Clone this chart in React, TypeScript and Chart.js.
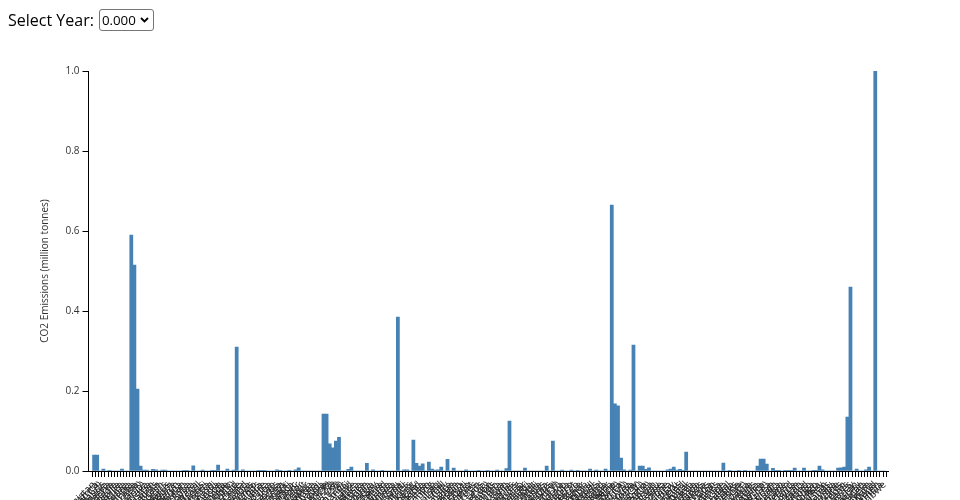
import React, { useEffect, useRef } from "react";
import { Chart, registerables } from "chart.js";

Chart.register(...registerables);

const yearOptions: string[] = ["0.000"];
const yTitle = "CO2 Emissions (million tonnes)";

const countries: string[] = [
  "Afghanistan", "Africa", "Africa (GCP)", "Aland Islands", "Albania", "Algeria", "Andorra", "Angola", "Anguilla", "Antarctica",
  "Antigua and Barbuda", "Argentina", "Armenia", "Aruba", "Asia", "Asia (GCP)", "Asia (excl. China and India)", "Australia", "Austria", "Azerbaijan",
  "Bahamas", "Bahrain", "Bangladesh", "Barbados", "Belarus", "Belgium", "Belize", "Benin", "Bermuda", "Bhutan",
  "Bolivia", "Bonaire Sint Eustatius and Saba", "Bosnia and Herzegovina", "Botswana", "Brazil", "British Virgin Islands", "Brunei", "Bulgaria", "Burkina Faso", "Burundi",
  "Cambodia", "Cameroon", "Canada", "Cape Verde", "Central African Republic", "Central America (GCP)", "Chad", "Chile", "China", "Christmas Island",
  "Colombia", "Comoros", "Congo", "Cook Islands", "Costa Rica", "Cote d'Ivoire", "Croatia", "Cuba", "Curacao", "Cyprus",
  "Czechia", "Democratic Republic of Congo", "Denmark", "Djibouti", "Dominica", "Dominican Republic", "East Timor", "Ecuador", "Egypt", "El Salvador",
  "Equatorial Guinea", "Eritrea", "Estonia", "Eswatini", "Ethiopia", "Europe", "Europe (GCP)", "Europe (excl. EU-27)", "Europe (excl. EU-28)", "European Union (27)",
  "European Union (28)", "Faroe Islands", "Fiji", "Finland", "France", "French Equatorial Africa", "French Polynesia", "French West Africa", "Gabon", "Gambia",
  "Georgia", "Germany", "Ghana", "Greece", "Greenland", "Grenada", "Guatemala", "Guinea", "Guinea-Bissau", "Guyana",
  "Haiti", "High-income countries", "Honduras", "Hong Kong", "Hungary", "Iceland", "India", "Indonesia", "International aviation", "International shipping",
  "Iran", "Iraq", "Ireland", "Israel", "Italy", "Jamaica", "Japan", "Jordan", "Kazakhstan", "Kenya",
  "Kiribati", "Kosovo", "Kuwait", "Kuwaiti Oil Fires", "Kyrgyzstan", "Laos", "Latvia", "Least developed countries (Jones et al.)", "Lebanon", "Leeward Islands",
  "Lesotho", "Liberia", "Libya", "Liechtenstein", "Lithuania", "Low-income countries", "Lower-middle-income countries", "Luxembourg", "Macao", "Madagascar",
  "Malawi", "Malaysia", "Maldives", "Mali", "Malta", "Marshall Islands", "Mauritania", "Mauritius", "Mexico", "Micronesia (country)",
  "Middle East (GCP)", "Moldova", "Monaco", "Mongolia", "Montenegro", "Montserrat", "Morocco", "Mozambique", "Myanmar", "Namibia",
  "Nauru", "Nepal", "Netherlands", "New Caledonia", "New Zealand", "Nicaragua", "Niger", "Nigeria", "Niue", "Non-OECD (GCP)",
  "North America", "North America (GCP)", "North America (excl. USA)", "North Korea", "North Macedonia", "Norway", "OECD (GCP)", "OECD (Jones et al.)", "Oceania", "Oceania (GCP)",
  "Oman", "Pakistan", "Palau", "Palestine", "Panama", "Panama Canal Zone", "Papua New Guinea", "Paraguay", "Peru", "Philippines",
  "Poland", "Portugal", "Qatar", "Romania", "Russia", "Rwanda", "Ryukyu Islands", "Saint Helena", "Saint Kitts and Nevis", "Saint Lucia",
  "Saint Pierre and Miquelon", "Saint Vincent and the Grenadines", "Samoa", "Sao Tome and Principe", "Saudi Arabia", "Senegal", "Serbia", "Seychelles", "Sierra Leone", "Singapore",
  "Sint Maarten (Dutch part)", "Slovakia", "Slovenia", "Solomon Islands", "Somalia", "South Africa", "South America", "South America (GCP)", "South Korea", "South Sudan",
  "Spain", "Sri Lanka", "Sudan", "Suriname", "Sweden", "Switzerland", "Syria", "Taiwan", "Tajikistan", "Tanzania",
  "Thailand", "Togo", "Tonga", "Trinidad and Tobago", "Tunisia", "Turkey", "Turkmenistan", "Turks and Caicos Islands", "Tuvalu", "Uganda",
  "Ukraine", "United Arab Emirates", "United Kingdom", "United States", "Upper-middle-income countries", "Uruguay", "Uzbekistan", "Vanuatu", "Vatican", "Venezuela",
  "Vietnam", "Wallis and Futuna", "World", "Yemen", "Zambia", "Zimbabwe",
];

const emissions: number[] = [
  0.04, 0.04, 0, 0.005, 0, 0.001, 0, 0, 0, 0.005, 0, 0, 0.59, 0.515, 0.205, 0.012,
  0.002, 0.002, 0, 0.004, 0.003, 0, 0.002, 0.002, 0, 0, 0, 0, 0, 0.001, 0.001, 0,
  0.013, 0, 0, 0.002, 0, 0, 0.001, 0.001, 0.015, 0, 0, 0.005, 0, 0.002, 0.31, 0,
  0.003, 0, 0, 0, 0, 0.001, 0.001, 0.001, 0, 0, 0, 0.003, 0.001, 0, 0, 0.001,
  0, 0.003, 0.008, 0, 0, 0, 0, 0, 0, 0, 0.142, 0.142, 0.068, 0.058, 0.075, 0.084,
  0, 0, 0.004, 0.01, 0, 0, 0, 0, 0.019, 0, 0.003, 0, 0, 0.001, 0, 0,
  0, 0, 0.385, 0, 0.003, 0.003, 0, 0.077, 0.019, 0.012, 0.018, 0, 0.022, 0.005, 0.002, 0.003,
  0.01, 0, 0.029, 0, 0.0075, 0, 0, 0, 0.003, 0, 0, 0, 0.001, 0, 0, 0.001,
  0, 0, 0.002, 0, 0, 0.006, 0.125, 0, 0, 0, 0, 0.007, 0, 0, 0, 0,
  0, 0, 0.0125, 0, 0.075, 0, 0, 0.002, 0, 0, 0.002, 0, 0.001, 0, 0, 0,
  0.005, 0, 0.002, 0, 0, 0.005, 0, 0.665, 0.168, 0.163, 0.032, 0.003, 0, 0.002, 0.315, 0,
  0.0125, 0.0125, 0.004, 0.008, 0, 0, 0, 0, 0, 0.003, 0.005, 0.01, 0.002, 0.004, 0.001, 0.0475,
  0, 0, 0, 0, 0, 0, 0, 0, 0, 0, 0, 0.02, 0, 0.001, 0, 0,
  0.001, 0, 0.001, 0, 0, 0, 0.0125, 0.03, 0.03, 0.0175, 0, 0.0065, 0.001, 0.001, 0, 0.001,
  0.001, 0.001, 0.007, 0, 0, 0.007, 0, 0, 0.001, 0.001, 0.0125, 0.003, 0, 0, 0, 0,
  0.007, 0.008, 0.01, 0.135, 0.46, 0, 0.005, 0, 0, 0.003, 0.01, 0, 1.0, 0, 0, 0,
];

const yTicks: number[] = [0, 0.2, 0.4, 0.6, 0.8, 1.0];

const chevron =
  "url(\"data:image/svg+xml;utf8,<svg xmlns='http://www.w3.org/2000/svg' width='9' height='6' viewBox='0 0 9 6'><path d='M1 1 L4.5 4.5 L8 1' stroke='black' stroke-width='1.8' fill='none'/></svg>\")";

export default function App() {
  const canvasRef = useRef<HTMLCanvasElement | null>(null);

  useEffect(() => {
    if (!canvasRef.current) return;
    Chart.defaults.font.family = "'Open Sans', sans-serif";
    const points = emissions.map((v, i) => ({ x: i, y: v }));
    const chart = new Chart(canvasRef.current, {
      type: "bar",
      data: {
        datasets: [
          {
            label: yTitle,
            data: points,
            backgroundColor: "#4682b4",
            borderWidth: 0,
            barPercentage: 1,
            categoryPercentage: 1,
          },
        ],
      },
      options: {
        responsive: false,
        animation: false,
        devicePixelRatio: 1,
        layout: { padding: { left: 0, right: 71.7, top: 71, bottom: 0 } },
        plugins: { legend: { display: false }, tooltip: { enabled: false } },
        scales: {
          x: {
            type: "linear",
            min: -1.3,
            max: countries.length - 0.3,
            border: { color: "#000", width: 1 },
            grid: {
              display: true,
              drawOnChartArea: false,
              drawTicks: true,
              tickLength: 6,
              tickColor: "#000",
            },
            afterBuildTicks: (scale: any) => {
              scale.ticks = countries.map((_, i) => ({ value: i }));
            },
            ticks: {
              autoSkip: false,
              minRotation: 45,
              maxRotation: 45,
              color: "#222",
              padding: 2,
              font: { size: 10 },
              callback: (v: any) => countries[Math.round(Number(v))] ?? "",
            },
            afterFit: (scale: any) => {
              scale.height = 29;
            },
          },
          y: {
            min: 0,
            max: 1,
            border: { color: "#000", width: 1 },
            grid: {
              display: true,
              drawOnChartArea: false,
              drawTicks: true,
              tickLength: 6,
              tickColor: "#000",
            },
            afterBuildTicks: (scale: any) => {
              scale.ticks = yTicks.map((v) => ({ value: v }));
            },
            ticks: {
              color: "#333",
              padding: 3,
              font: { size: 10 },
              callback: (v: any) => Number(v).toFixed(1),
            },
            title: {
              display: true,
              text: yTitle,
              color: "#333",
              font: { size: 10 },
              padding: { top: 39, bottom: 0 },
            },
            afterFit: (scale: any) => {
              scale.width = 88.5;
            },
          },
        },
      },
    });
    return () => chart.destroy();
  }, []);

  return (
    <div>
      <div style={{ position: "fixed", left: 0, top: 0, width: 960, height: 500 }}>
        <canvas ref={canvasRef} width={960} height={500} style={{ width: 960, height: 500, display: "block" }} />
      </div>
      <div
        style={{
          position: "fixed",
          left: 8,
          top: 9,
          fontFamily: "'Open Sans', sans-serif",
          fontSize: 16,
          zIndex: 2,
          display: "flex",
          alignItems: "center",
        }}
      >
        <label htmlFor="yearSel">Select Year:</label>
        <select
          id="yearSel"
          defaultValue={yearOptions[0]}
          style={{
            marginLeft: 5,
            fontFamily: "'Open Sans', sans-serif",
            fontSize: 13.33,
            color: "#000",
            height: 22,
            width: 55,
            boxSizing: "border-box",
            padding: "0 14px 0 2px",
            border: "1px solid #767676",
            borderRadius: 3,
            appearance: "none",
            WebkitAppearance: "none",
            backgroundColor: "#fff",
            backgroundImage: chevron,
            backgroundRepeat: "no-repeat",
            backgroundPosition: "right 4px center",
          }}
        >
          {yearOptions.map((y) => (
            <option key={y} value={y}>
              {y}
            </option>
          ))}
        </select>
      </div>
    </div>
  );
}
